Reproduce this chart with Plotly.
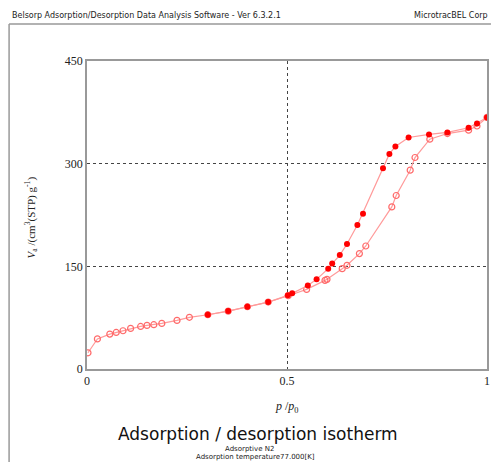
import plotly.graph_objects as go

# Adsorption branch (open markers)
ads_x = [0.0025, 0.026, 0.057, 0.073, 0.090, 0.109, 0.134, 0.150, 0.167, 0.187, 0.225, 0.256,
         0.302, 0.353, 0.401, 0.453, 0.503, 0.549, 0.595, 0.600, 0.638, 0.650, 0.681, 0.697,
         0.762, 0.773, 0.808, 0.820, 0.857, 0.901, 0.954, 0.975, 1.0]
ads_y = [23.7, 44, 51, 53.4, 55.9, 59.3, 62.2, 63.7, 64.7, 66.6, 71, 75.5,
         79.3, 84.6, 91, 97.8, 107, 116.3, 129.5, 131, 146.6, 151.5, 168.6, 179.7,
         236.8, 253.5, 290.5, 309, 335.8, 344, 349, 355, 367.6]

# Desorption branch (filled markers)
des_x = [1.0, 0.975, 0.954, 0.901, 0.855, 0.804, 0.771, 0.756, 0.740, 0.690, 0.676, 0.650,
         0.632, 0.613, 0.603, 0.574, 0.552, 0.513, 0.502, 0.453, 0.401, 0.353, 0.302]
des_y = [367.6, 358.8, 352.4, 345.6, 342.7, 338.3, 325, 314.3, 293.4, 227, 210.4, 182.6,
         166.5, 154, 146.6, 131, 122, 110.5, 107.6, 97.8, 91, 84.6, 79.3]

x_ticks = [0, 0.5, 1]
x_tick_text = ["0", "0.5", "1"]
y_ticks = [0, 150, 300, 450]

OFF = 8  # page body margin offset
W, H = 502 - 2 * OFF, 470 - 2 * OFF
PLOT_L, PLOT_R, PLOT_T, PLOT_B = 87, 490, 61, 369  # page pixels
L, R, T = PLOT_L - OFF, (W + OFF) - PLOT_R, PLOT_T - OFF
B = (H + OFF) - PLOT_B
pw, ph = W - L - R, H - T - B


def px(xp):
    return (xp - OFF - L) / pw


def py(yp):
    return (H - B - (yp - OFF)) / ph


fig = go.Figure()
fig.add_trace(go.Scatter(
    x=ads_x, y=ads_y, mode="lines+markers",
    line=dict(color="#ff9a9a", width=1.2),
    marker=dict(symbol="circle-open", size=6, color="#ff6a6a", line=dict(width=1.2)),
    showlegend=False))
fig.add_trace(go.Scatter(
    x=des_x, y=des_y, mode="lines+markers",
    line=dict(color="#ff9a9a", width=1.2),
    marker=dict(symbol="circle", size=6, color="#ff0000"),
    showlegend=False))

axis_font = dict(family="Liberation Serif", size=12, color="#222222")
fig.update_xaxes(range=[0, 1], tickvals=x_ticks, ticktext=x_tick_text,
                 showgrid=True, gridcolor="#444444", griddash="dot", gridwidth=1,
                 zeroline=False, showline=True, linecolor="#999999", linewidth=1.5,
                 mirror=True, ticks="", tickfont=axis_font)
fig.update_yaxes(range=[0, 450], tickvals=y_ticks,
                 showgrid=True, gridcolor="#444444", griddash="dot", gridwidth=1,
                 zeroline=False, showline=True, linecolor="#999999", linewidth=1.5,
                 mirror=True, ticks="", tickfont=axis_font)

annotations = [
    dict(x=px(9), y=py(15), xanchor="left", yanchor="middle",
         text="Belsorp Adsorption/Desorption Data Analysis Software - Ver 6.3.2.1",
         font=dict(family="DejaVu Sans", size=8, color="#222222")),
    dict(x=px(493), y=py(15), xanchor="right", yanchor="middle",
         text="MicrotracBEL Corp",
         font=dict(family="DejaVu Sans", size=8, color="#222222")),
    dict(x=px(31), y=py(217), xanchor="center", yanchor="middle", textangle=-90,
         text="<i>V</i><sub>a</sub> /(cm<sup>3</sup>(STP) g<sup>-1</sup>)",
         font=dict(family="Liberation Serif", size=11, color="#222222")),
    dict(x=px(288), y=py(407), xanchor="center", yanchor="middle",
         text="<i>p</i> /<i>p</i><sub>0</sub>",
         font=dict(family="Liberation Serif", size=12, color="#222222")),
    dict(x=px(259), y=py(434), xanchor="center", yanchor="middle",
         text="Adsorption / desorption isotherm",
         font=dict(family="DejaVu Sans", size=17, color="#111111")),
    dict(x=px(251), y=py(449), xanchor="center", yanchor="middle",
         text="Adsorptive N2",
         font=dict(family="DejaVu Sans", size=7, color="#222222")),
    dict(x=px(257), y=py(457), xanchor="center", yanchor="middle",
         text="Adsorption temperature77.000[K]",
         font=dict(family="DejaVu Sans", size=7, color="#222222")),
]
for a in annotations:
    a.update(xref="paper", yref="paper", showarrow=False)

shapes = [
    dict(type="line", xref="paper", yref="paper", x0=px(8.5), x1=px(494), y0=py(24), y1=py(24),
         line=dict(color="#999999", width=1.5)),
    dict(type="line", xref="paper", yref="paper", x0=px(8.5), x1=px(8.5), y0=py(24), y1=py(462),
         line=dict(color="#999999", width=1.5)),
]

fig.update_layout(width=W, height=H, margin=dict(l=L, r=R, t=T, b=B),
                  paper_bgcolor="white", plot_bgcolor="white",
                  annotations=annotations, shapes=shapes)

fig.write_html("out.html")
